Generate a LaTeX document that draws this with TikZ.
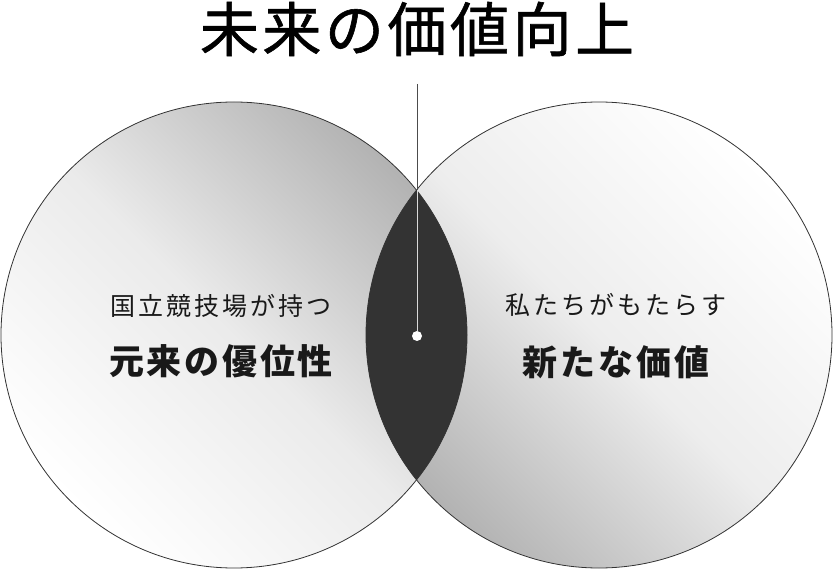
\documentclass[tikz,border=0pt]{standalone}
\usepackage{fontspec}
\usetikzlibrary{positioning}
\newfontfamily\jp{Noto Sans CJK JP}

\begin{document}
\begin{tikzpicture}[x=1pt,y=-1pt,
    ring/.style={draw=black!80,line width=0.8pt},
    ttlfont/.style={font=\jp\addfontfeature{LetterSpace=6,FakeBold=1}\fontsize{59}{70}\selectfont},
    sub/.style={inner sep=0pt,text=black!90,font=\jp\addfontfeature{LetterSpace=12}\fontsize{25}{30}\selectfont},
    main/.style={inner sep=0pt,text=black!90,font=\jp\bfseries\addfontfeature{LetterSpace=8}\fontsize{35}{42}\selectfont}]
  \useasboundingbox (0,0) rectangle (833,569);
  % two circles
  \shade[top color=black!30,bottom color=white,middle color=black!8,shading angle=-45] (234,335) circle (233);
  \shade[top color=white,bottom color=black!30,middle color=black!7,shading angle=-45] (599,335) circle (233);
  \begin{scope}
    \clip (234,335) circle (233);
    \fill[black!80] (599,335) circle (233);
  \end{scope}
  \draw[ring] (234,335) circle (233);
  \draw[ring] (599,335) circle (233);
  % title and pointer
  \node[ttlfont] (ttl) at (417,29) {未来の価値向上};
  \coordinate (top) at (417,84);
  \coordinate (lens) at (417,190);
  \node[circle,fill=white,inner sep=0pt,minimum size=10pt] (dot) at (417,336) {};
  \draw[black!70,line width=1pt] (top) -- (lens);
  \draw[white!85!black,line width=1pt] (lens) -- (dot);
  % texts
  \node[sub] (lsub) at (221,306) {国立競技場が持つ};
  \node[main,below=55pt of lsub.center,anchor=center] (lmain) {元来の優位性};
  \node[sub] (rsub) at (616,305) {私たちがもたらす};
  \node[main,below=57pt of rsub.center,anchor=center] (rmain) {新たな価値};
\end{tikzpicture}
\end{document}
